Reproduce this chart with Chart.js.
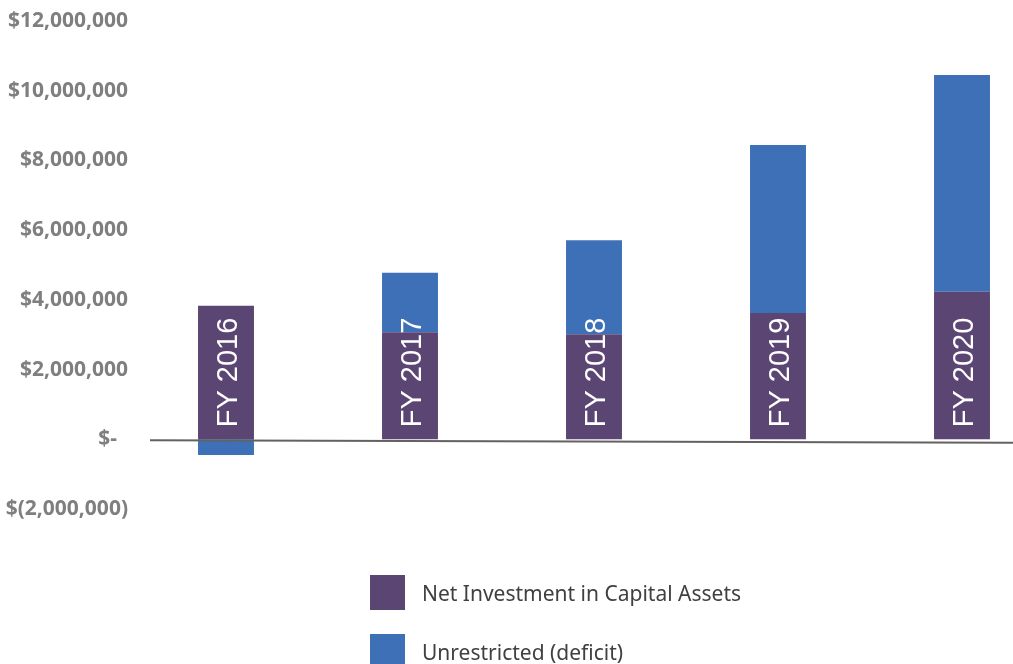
<!DOCTYPE html>
<html>
<head>
<meta charset="utf-8">
<script src="https://cdn.jsdelivr.net/npm/chart.js@4"></script>
<style>
  html, body { margin: 0; padding: 0; overflow: hidden; background: #fff; }
  #wrap { position: relative; width: 1054px; height: 664px; }
  #legend { position: absolute; left: 370px; top: 575px; font-family: "Noto Sans", "Open Sans", sans-serif; font-size: 21px; color: #404040; }
  .item { display: flex; align-items: center; height: 35px; margin-bottom: 24px; }
  .box { width: 35px; height: 35px; margin-right: 17px; }
</style>
</head>
<body>
<div id="wrap">
  <canvas id="myChart"></canvas>
  <div id="legend"></div>
</div>
<script>
const years = ['FY 2016', 'FY 2017', 'FY 2018', 'FY 2019', 'FY 2020'];
const netInvestment = [3830000, 3070000, 3010000, 3620000, 4230000];
const unrestricted = [-450000, 1710000, 2700000, 4820000, 6220000];
const seriesNames = ['Net Investment in Capital Assets', 'Unrestricted (deficit)'];
const seriesColors = ['#5B4673', '#3E70B7'];

function money(v) {
    if (v === 0) return '$-  ';
    let s = Math.abs(v).toLocaleString('en-US');
    return v < 0 ? '$(' + s + ')' : '$' + s;
}

// year labels drawn inside the bars, reading upward
const barLabels = {
    id: 'barLabels',
    afterDatasetsDraw(chart) {
        const c = chart.ctx;
        const x = chart.scales.x;
        const y0 = chart.scales.y.getPixelForValue(0);
        c.save();
        c.font = '29px "Liberation Sans", Arial, sans-serif';
        c.fillStyle = '#ffffff';
        c.textAlign = 'left';
        c.textBaseline = 'alphabetic';
        years.forEach((lbl, i) => {
            c.save();
            c.translate(x.getPixelForValue(i), y0 - 12);
            c.rotate(-Math.PI / 2);
            c.fillText(lbl, 0, 10.5);
            c.restore();
        });
        c.restore();
    }
};

// zero axis line
const zeroLine = {
    id: 'zeroLine',
    afterDatasetsDraw(chart) {
        const c = chart.ctx;
        const y0 = chart.scales.y.getPixelForValue(0);
        c.save();
        c.strokeStyle = '#626262';
        c.lineWidth = 2;
        c.beginPath();
        c.moveTo(150, y0 + 1);
        c.lineTo(1013, y0 + 3.5);
        c.stroke();
        c.restore();
    }
};

const ctx = document.getElementById('myChart');

let myChart = new Chart(ctx, {
    type: 'bar',
    data: {
        labels: years,
        datasets: [{
            label: seriesNames[0],
            data: netInvestment,
            backgroundColor: seriesColors[0],
            barPercentage: 1,
            categoryPercentage: 0.304
        }, {
            label: seriesNames[1],
            data: unrestricted,
            backgroundColor: seriesColors[1],
            barPercentage: 1,
            categoryPercentage: 0.304
        }]
    },
    options: {
        responsive: true,
        maintainAspectRatio: false,
        animation: false,
        layout: {
            padding: { top: 21, bottom: 155, left: 0, right: 0 }
        },
        plugins: {
            legend: { display: false },
            tooltip: { enabled: false }
        },
        scales: {
            x: {
                stacked: true,
                display: false
            },
            y: {
                stacked: true,
                min: -2000000,
                max: 12000000,
                border: { display: false },
                grid: { display: false, drawTicks: false },
                afterFit: (s) => { s.width = 134; },
                ticks: {
                    stepSize: 2000000,
                    padding: 6,
                    color: '#7f7f7f',
                    font: { family: '"Open Sans", "Noto Sans", sans-serif', size: 21, weight: 'bold' },
                    callback: (v) => money(v)
                }
            }
        }
    },
    plugins: [barLabels, zeroLine]
});

// legend, one entry per line
const legend = document.getElementById('legend');
seriesNames.forEach((name, i) => {
    const row = document.createElement('div');
    row.className = 'item';
    const box = document.createElement('div');
    box.className = 'box';
    box.style.background = seriesColors[i];
    const txt = document.createElement('span');
    txt.textContent = name;
    row.appendChild(box);
    row.appendChild(txt);
    legend.appendChild(row);
});
</script>
</body>
</html>
